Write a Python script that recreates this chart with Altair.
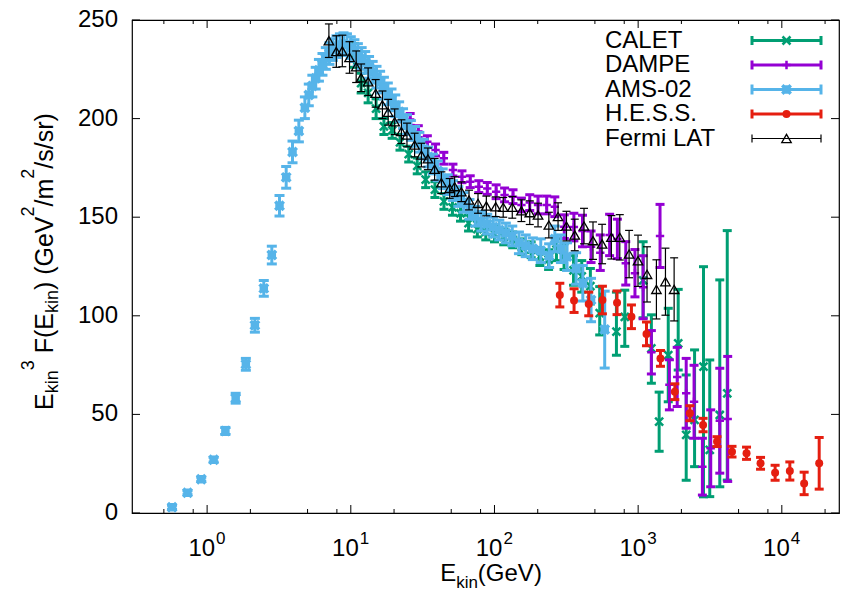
import altair as alt
import pandas as pd

FONT = "Liberation Sans"

# ---------------- data ----------------
calet_E = [10.6, 11.8, 13.2, 15.0, 17.0, 19.4, 22.0, 25.3, 29.0, 33.2,
           38.5, 44.5, 51, 58, 66, 76, 87, 100, 116, 134,
           155, 180, 207, 238, 270, 305, 355, 405, 465, 540,
           706, 807, 1083, 1236, 1400, 1620, 1900, 2160, 2470, 2850,
           3150, 3700, 4170]
calet_F = [232, 218, 213, 205, 196, 194, 188, 182, 176, 169,
           164, 158, 155, 152, 147, 144, 142.5, 141.5, 140, 138.5,
           135, 133.5, 130, 128.5, 133.5, 130, 123, 120, 115, 101.3,
           92, 99.5, 118, 83.5, 46.3, 80, 86, 39.6, 47.2, 74.2,
           32, 49.7, 60.7]
calet_dn = [6, 5, 5, 5, 4, 4, 4, 4, 4, 4,
            4, 4, 4, 4, 4, 4, 4, 4, 4, 4,
            4, 4, 4.5, 5, 5.5, 6.5, 7.5, 8, 9, 11,
            12, 15, 19, 17.7, 15, 23.6, 13.5, 23, 23.7, 66,
            23.7, 36.4, 44]
calet_up = [6, 5, 5, 5, 4, 4, 4, 4, 4, 4,
            4, 4, 4, 4, 4, 4, 4, 4, 4, 4,
            4, 4, 4.5, 5, 5.5, 6.5, 7.5, 8, 9, 13.5,
            20, 13.5, 19.6, 17, 15, 23.8, 27.4, 30.4, 35.5, 50.7,
            45.6, 68.5, 82.5]

dampe_E = [25.9, 29.5, 34.1, 38.9, 44.4, 51.4, 59.4, 67.8, 77.8, 89.1,
           102.7, 117.6, 134.6, 154, 176, 201, 231, 263, 306, 357,
           410, 470, 545, 633, 717, 820, 950, 1083, 1236, 1420,
           1650, 1870, 2160, 2450, 2800, 3200, 3700, 4200]
dampe_F = [199.6, 193.4, 188.3, 184.1, 179.9, 173.9, 170.5, 168, 165.5, 164.6,
           162.9, 161.3, 160.4, 156.2, 157.4, 156.2, 156.2, 155.3, 145.2, 145,
           143, 135, 132, 141, 139, 126.6, 121.6, 114.5, 81.5, 140.5,
           65, 69, 60.7, 56.4, 23.5, 32.8, 46.8, 47.7]
dampe_err = [3, 3, 3, 3, 3, 3, 3, 3, 3, 3,
             3.5, 3.5, 3.5, 3.5, 4, 4.5, 4.5, 5, 6, 7,
             8, 8, 9, 10.5, 10, 11, 12, 16, 11, 16,
             12.7, 15, 17.7, 18.5, 14.4, 19.5, 26.6, 31.7]

ams_E = [0.57, 0.73, 0.91, 1.11, 1.34, 1.58, 1.86, 2.15, 2.48, 2.82,
         3.19, 3.55, 3.93, 4.35, 4.79, 5.1, 5.4, 5.7, 6.0, 6.35,
         6.7, 7.1, 7.5, 7.95, 8.4, 8.9, 9.4, 10.0, 10.6, 11.2,
         11.9, 12.6, 13.4, 14.2, 15.1, 16.0, 17.0, 18.1, 19.2, 20.4,
         21.7, 23.1, 24.6, 26.2, 28.0, 30.0, 32.2, 34.6, 37.3, 40.3,
         43.6, 47.3, 51.4, 56, 61, 67, 73.5, 81, 89, 98,
         108, 120, 133, 148, 165, 185, 210, 240, 263, 290,
         320, 370, 412, 470, 585]
ams_F = [2.9, 10.3, 17.1, 27.0, 41.6, 58.2, 75.4, 95.2, 113.9, 130.8,
         155.8, 170.2, 183.1, 193.7, 205.5, 212, 216.5, 220.5, 224.5, 227.5,
         230.5, 233, 235, 236.5, 237.5, 238, 237.5, 236, 234.5, 232.5,
         230.5, 228.5, 226, 223.5, 221, 218.5, 215.5, 212.5, 209.5, 206.5,
         203.5, 200, 197, 194, 191, 188, 184.5, 180.5, 177, 173.5,
         169.5, 166.5, 163.5, 160.5, 157.5, 154, 150.5, 148, 146.5, 145,
         143.5, 142, 140.5, 137, 135.5, 134, 133, 130.5, 139, 134,
         130, 124, 116.5, 108, 93]
ams_err = [1, 1, 1, 1.2, 1.8, 2.5, 3, 3.5, 4, 4.5,
           5.2, 5.5, 5.5, 5.5, 5.5, 5.5, 5.5, 5.5, 5.5, 5.5,
           5.5, 5.5, 5.5, 5.5, 5.5, 5.5, 5.5, 5.5, 5.5, 5.5,
           5.5, 5.5, 5.5, 5.5, 5.5, 5.5, 5.5, 5.5, 5.5, 5.5,
           5, 5, 5, 5, 5, 5, 5, 5, 5, 5,
           5, 5, 5, 5, 5, 5, 5, 5, 5, 5,
           5, 5, 5, 5.5, 5.5, 5.5, 6, 6, 6.5, 7,
           7, 8, 9, 11, 19.5]

hess_E = [285, 358, 453, 564, 713, 898, 1143, 1430, 1800, 2290,
          2830, 3540, 4500, 5680, 7110, 8980, 11370, 14300, 18200]
hess_F = [110.5, 107.7, 106, 108, 106.6, 99.5, 90.8, 78.4, 61.5, 50.6,
          44.6, 36.2, 31.1, 30.3, 25.2, 20.4, 21.3, 15, 25.2]
hess_err = [6, 6, 6, 7, 6, 6, 6, 4, 4, 3.8,
            3.4, 2.5, 2.7, 3.1, 3, 3.8, 4.6, 5.7, 13.1]

fermi_E = [7.04, 7.93, 8.73, 9.8, 10.9, 11.8, 13.2, 14.9, 16.6, 18.2,
           20.2, 22.5, 24.6, 27.8, 31.0, 34.4, 38.3, 42.7, 48.8, 52.8,
           58.8, 66.5, 76.8, 87.8, 102, 115, 133, 154, 176, 201,
           239, 277, 317, 362, 420, 485, 561, 651, 745, 865,
           998, 1153, 1340, 1549, 1780]
fermi_F = [239.5, 234, 234.3, 231, 226.3, 220.7, 218.7, 212.8, 207, 203.2,
           198.4, 193.4, 191.7, 186.6, 181.5, 179.6, 174.3, 167.5, 164.6, 165.5,
           162.9, 158.7, 157, 155.7, 155.3, 155, 155, 153.3, 152.3, 151.1,
           146, 150.3, 145.5, 141, 145.5, 138.1, 136.4, 139.8, 139.8, 131.3,
           127.9, 121, 113.4, 117.3, 113.4]
fermi_err = [8.5, 8, 8, 8, 8, 7, 7, 7, 7, 6.5,
             6.5, 6, 6, 6, 6, 5.5, 5.5, 5.5, 5, 5,
             5, 5, 5, 5, 5, 5, 5.5, 5.5, 6, 6,
             6.5, 7, 7.5, 8, 9, 9.5, 10, 11, 11.5, 12,
             13, 14, 15, 17, 16]

series_names = ["CALET", "DAMPE", "AMS-02", "H.E.S.S.", "Fermi LAT"]
series_colors = ["#009E73", "#9400D3", "#56B4E9", "#E51E10", "#000000"]

x_major = [1, 10, 100, 1000, 10000]
x_major_exp = ["0", "1", "2", "3", "4"]
x_minor = [0.5, 0.8, 2, 5, 8, 20, 50, 80, 200, 500, 800, 2000, 5000, 8000, 20000]
y_ticks = [0, 50, 100, 150, 200, 250]

# ---------------- layout / style ----------------
W, H = 707, 493
xs = alt.Scale(type="log", domain=[0.3, 25000])
ys = alt.Scale(domain=[0, 250])

styles = {
    "CALET": dict(lw=3, cap=9, shape="M-1,-1L1,1M-1,1L1,-1", size=64, filled=False, sw=2.5),
    "DAMPE": dict(lw=3, cap=9, shape="M-1,0L1,0M0,-1L0,1", size=70, filled=False, sw=2.5),
    "AMS-02": dict(lw=3, cap=10, shape="M-1,-1L1,1M-1,1L1,-1M-1,0L1,0M0,-1L0,1", size=72, filled=False, sw=3.5),
    "H.E.S.S.": dict(lw=3, cap=9, shape="circle", size=64, filled=True, sw=0),
    "Fermi LAT": dict(lw=1.2, cap=8, shape="triangle-up", size=90, filled=False, sw=1.3),
}


def table(E, F, dn, up):
    return pd.DataFrame({"E": E, "F": F,
                         "lo": [f - d for f, d in zip(F, dn)],
                         "hi": [f + u for f, u in zip(F, up)]})


tables = {
    "CALET": table(calet_E, calet_F, calet_dn, calet_up),
    "DAMPE": table(dampe_E, dampe_F, dampe_err, dampe_err),
    "AMS-02": table(ams_E, ams_F, ams_err, ams_err),
    "H.E.S.S.": table(hess_E, hess_F, hess_err, hess_err),
    "Fermi LAT": table(fermi_E, fermi_F, fermi_err, fermi_err),
}


def xe(f):
    return alt.X(f, type="quantitative", scale=xs, axis=None)


def ye(f):
    return alt.Y(f, type="quantitative", scale=ys, axis=None)


def point_kw(name, color, clip=True):
    st = styles[name]
    kw = dict(shape=st["shape"], size=st["size"], filled=st["filled"], color=color, opacity=1)
    if clip:
        kw["clip"] = True
    if not st["filled"]:
        kw["strokeWidth"] = st["sw"]
    return kw


layers = []

# ---- data series ----
for name, color in zip(series_names, series_colors):
    st = styles[name]
    base = alt.Chart(tables[name])
    layers.append(base.mark_rule(color=color, strokeWidth=st["lw"], clip=True).encode(
        x=xe("E"), y=ye("lo"), y2="hi"))
    for fld in ["lo", "hi"]:
        layers.append(base.mark_tick(color=color, orient="horizontal", size=st["cap"],
                                     thickness=st["lw"], opacity=1, clip=True).encode(
            x=xe("E"), y=ye(fld)))
    layers.append(base.mark_point(**point_kw(name, color)).encode(x=xe("E"), y=ye("F")))

# ---- inward ticks (gnuplot style) ----
xmaj = pd.DataFrame({"t": x_major, "b": ["10"] * len(x_major), "e": x_major_exp})
xmin = pd.DataFrame({"t": x_minor})
ytk = pd.DataFrame({"t": y_ticks, "lab": [str(v) for v in y_ticks]})

for df, ln in [(xmaj, 8), (xmin, 4)]:
    layers.append(alt.Chart(df).mark_rule(color="black", strokeWidth=1).encode(
        x=xe("t"), y=alt.value(H), y2=alt.value(H - ln)))
    layers.append(alt.Chart(df).mark_rule(color="black", strokeWidth=1).encode(
        x=xe("t"), y=alt.value(0), y2=alt.value(ln)))

layers.append(alt.Chart(ytk).mark_rule(color="black", strokeWidth=1).encode(
    y=ye("t"), x=alt.value(0), x2=alt.value(8)))
layers.append(alt.Chart(ytk).mark_rule(color="black", strokeWidth=1).encode(
    y=ye("t"), x=alt.value(W), x2=alt.value(W - 8)))

# ---- y tick labels ----
layers.append(alt.Chart(ytk).mark_text(align="right", baseline="middle", font=FONT,
                                       fontSize=24, color="black").encode(
    y=ye("t"), x=alt.value(-14), text="lab:N"))

# ---- x tick labels 10^n ----
layers.append(alt.Chart(xmaj).mark_text(align="right", baseline="alphabetic", dx=8,
                                        font=FONT, fontSize=24, color="black").encode(
    x=xe("t"), y=alt.value(536), text="b:N"))
layers.append(alt.Chart(xmaj).mark_text(align="left", baseline="alphabetic", dx=9,
                                        font=FONT, fontSize=17, color="black").encode(
    x=xe("t"), y=alt.value(524), text="e:N"))

# ---- axis titles built from pieces (sub/superscripts) ----
EM = {"E": 0.667, "k": 0.5, "i": 0.222, "n": 0.556, "3": 0.556, " ": 0.278, "F": 0.611,
      "(": 0.333, ")": 0.333, "G": 0.778, "e": 0.556, "V": 0.667, "2": 0.556, "/": 0.278,
      "m": 0.833, "s": 0.5, "r": 0.333}


def width(s, fs):
    return sum(EM.get(c, 0.556) for c in s) * fs


one = pd.DataFrame({"k": [0]})

# x title: E_kin(GeV)
xt_segments = [("E", 0), ("kin", 1), ("(GeV)", 0)]
main_fs, small_fs = 24, 17
total = sum(width(s, main_fs if k == 0 else small_fs) for s, k in xt_segments)
cx = 359 - total / 2
for s, k in xt_segments:
    fs = main_fs if k == 0 else small_fs
    yy = 561 + (7 if k == 1 else 0)
    layers.append(alt.Chart(one).mark_text(text=s, align="left", baseline="alphabetic",
                                           font=FONT, fontSize=fs, color="black").encode(
        x=alt.value(cx), y=alt.value(yy)))
    cx += width(s, fs)

# y title: E_kin^3 F(E_kin) (GeV^2/m^2/s/sr), rotated (reads bottom to top)
yt_segments = [("E", 0), ("kin", 1), ("3", 2), (" ", 0), ("F(E", 0), ("kin", 1), (")", 0),
               (" ", 0), ("(GeV", 0), ("2", 2), ("/m", 0), ("2", 2), ("/s/sr)", 0)]
main_fs, small_fs = 25, 18
cy = 390
for s, k in yt_segments:
    fs = main_fs if k == 0 else small_fs
    if s.strip():
        xx = -79 + (5 if k == 1 else (-19 if k == 2 else 0))
        layers.append(alt.Chart(one).mark_text(text=s, align="left", baseline="alphabetic",
                                               angle=270, font=FONT, fontSize=fs,
                                               color="black").encode(
            x=alt.value(xx), y=alt.value(cy)))
    cy -= width(s, fs)

# ---- legend (top right, inside the frame) ----
for i, (name, color) in enumerate(zip(series_names, series_colors)):
    st = styles[name]
    ly = 20.5 + 24.5 * i
    layers.append(alt.Chart(one).mark_text(text=name, align="left", baseline="middle",
                                           font=FONT, fontSize=24, color="black").encode(
        x=alt.value(473), y=alt.value(ly)))
    layers.append(alt.Chart(one).mark_rule(color=color, strokeWidth=st["lw"]).encode(
        x=alt.value(620), x2=alt.value(689), y=alt.value(ly)))
    for cxp in [620, 689]:
        layers.append(alt.Chart(one).mark_rule(color=color, strokeWidth=st["lw"]).encode(
            x=alt.value(cxp), y=alt.value(ly - st["cap"] / 2), y2=alt.value(ly + st["cap"] / 2)))
    layers.append(alt.Chart(one).mark_point(**point_kw(name, color, clip=False)).encode(
        x=alt.value(654.5), y=alt.value(ly)))

chart = alt.layer(*layers).properties(
    width=W, height=H,
    padding={"left": 132, "right": 7, "top": 20, "bottom": 78},
    autosize=alt.AutoSizeParams(type="none"),
    background="white",
).configure_view(stroke="black", strokeWidth=1.2)

chart.save("out.html", embed_options={"renderer": "svg", "actions": False})
